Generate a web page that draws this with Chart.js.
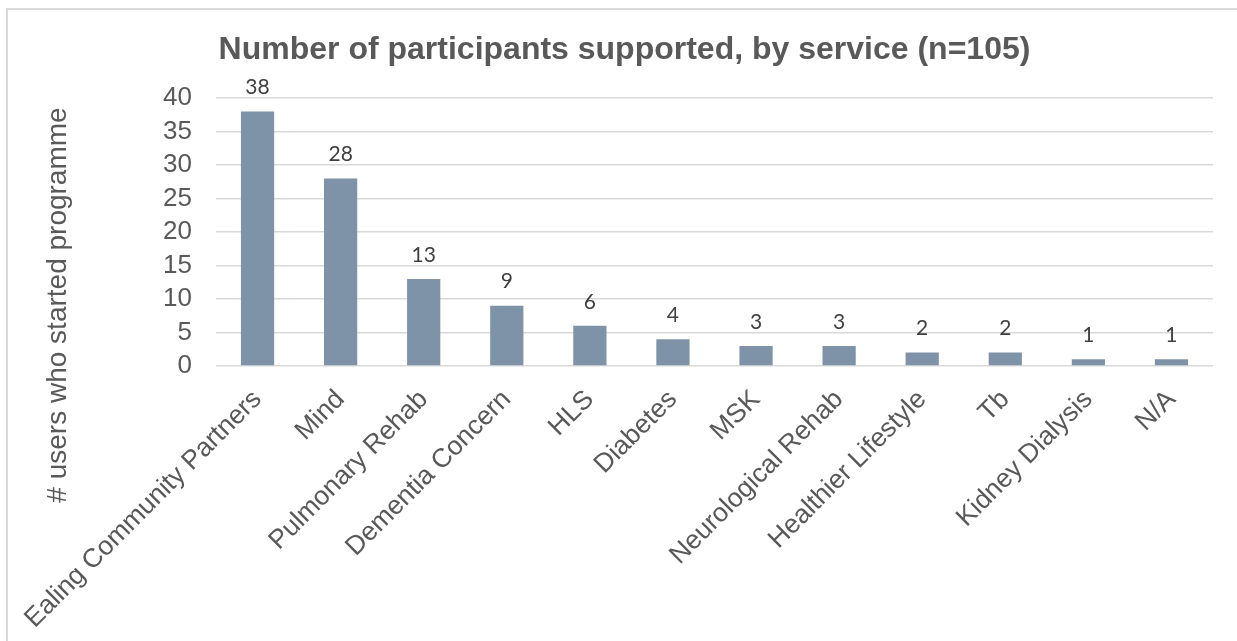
<!DOCTYPE html>
<html>
<head>
<meta charset="utf-8">
<script src="https://cdn.jsdelivr.net/npm/chart.js@4.4.1/dist/chart.umd.min.js"></script>
<style>
  html, body { margin: 0; padding: 0; background: #ffffff; overflow: hidden; }
  #wrap { position: relative; width: 1237px; height: 641px; }
</style>
</head>
<body>
<div id="wrap"><canvas id="chart" width="1237" height="641"></canvas></div>
<script>
// Services and how many participants started each programme
const services = [
  'Ealing Community Partners', 'Mind', 'Pulmonary Rehab', 'Dementia Concern',
  'HLS', 'Diabetes', 'MSK', 'Neurological Rehab', 'Healthier Lifestyle',
  'Tb', 'Kidney Dialysis', 'N/A'
];
const participants = [38, 28, 13, 9, 6, 4, 3, 3, 2, 2, 1, 1];

const yTicks = [0, 5, 10, 15, 20, 25, 30, 35, 40];
const chartTitle = 'Number of participants supported, by service (n=105)';
const yAxisTitle = '# users who started programme';

const textGrey = '#595959';
const labelGrey = '#404040';
const gridGrey = '#d9d9d9';
const barColour = '#7e93a8';

// Light frame round the whole chart
const framePlugin = {
  id: 'frame',
  beforeDraw(chart) {
    const ctx = chart.ctx;
    ctx.save();
    ctx.strokeStyle = gridGrey;
    ctx.lineWidth = 2;
    ctx.strokeRect(7, 9, 1400, 900);
    ctx.restore();
  }
};

// Value written above every bar
const valueLabels = {
  id: 'valueLabels',
  afterDatasetsDraw(chart) {
    const ctx = chart.ctx;
    const meta = chart.getDatasetMeta(0);
    const data = chart.data.datasets[0].data;
    ctx.save();
    ctx.fillStyle = labelGrey;
    ctx.font = '21px Lato, "Open Sans", sans-serif';
    ctx.textAlign = 'center';
    ctx.textBaseline = 'middle';
    meta.data.forEach((bar, i) => {
      ctx.fillText(String(data[i]), bar.x, bar.y - 24);
    });
    ctx.restore();
  }
};

// Vertical axis title, set a little lower than the plot middle
const yTitlePlugin = {
  id: 'yTitle',
  afterDraw(chart) {
    const ctx = chart.ctx;
    ctx.save();
    ctx.translate(58, 305);
    ctx.rotate(-Math.PI / 2);
    ctx.fillStyle = textGrey;
    ctx.font = '28px "Liberation Sans", Arial, sans-serif';
    ctx.textAlign = 'center';
    ctx.textBaseline = 'middle';
    ctx.fillText(yAxisTitle, 0, 0);
    ctx.restore();
  }
};

new Chart(document.getElementById('chart'), {
  type: 'bar',
  data: {
    labels: services,
    datasets: [{
      data: participants,
      backgroundColor: barColour,
      borderWidth: 0,
      barPercentage: 0.4,
      categoryPercentage: 1.0
    }]
  },
  options: {
    responsive: false,
    animation: false,
    layout: { padding: { left: 36, right: 24, top: 0, bottom: 0 } },
    plugins: {
      legend: { display: false },
      tooltip: { enabled: false },
      title: {
        display: true,
        text: chartTitle,
        color: textGrey,
        font: { family: '"Liberation Sans", Arial, sans-serif', size: 32, weight: 'bold' },
        padding: { top: 31, bottom: 28.6 }
      }
    },
    scales: {
      x: {
        grid: { display: false },
        border: { display: false },
        ticks: {
          color: textGrey,
          font: { family: '"Liberation Sans", Arial, sans-serif', size: 26.5 },
          minRotation: 45,
          maxRotation: 45,
          autoSkip: false,
          padding: 10
        },
        afterFit(scale) { scale.height = 275; }
      },
      y: {
        min: 0,
        max: 40,
        afterBuildTicks(scale) { scale.ticks = yTicks.map(v => ({ value: v })); },
        grid: { color: gridGrey, lineWidth: 1.5, drawTicks: false },
        border: { display: false },
        ticks: {
          color: textGrey,
          font: { family: '"Liberation Sans", Arial, sans-serif', size: 26 },
          padding: 24,
          autoSkip: false
        },
        afterFit(scale) { scale.width = 180; }
      }
    }
  },
  plugins: [framePlugin, valueLabels, yTitlePlugin]
});
</script>
</body>
</html>
